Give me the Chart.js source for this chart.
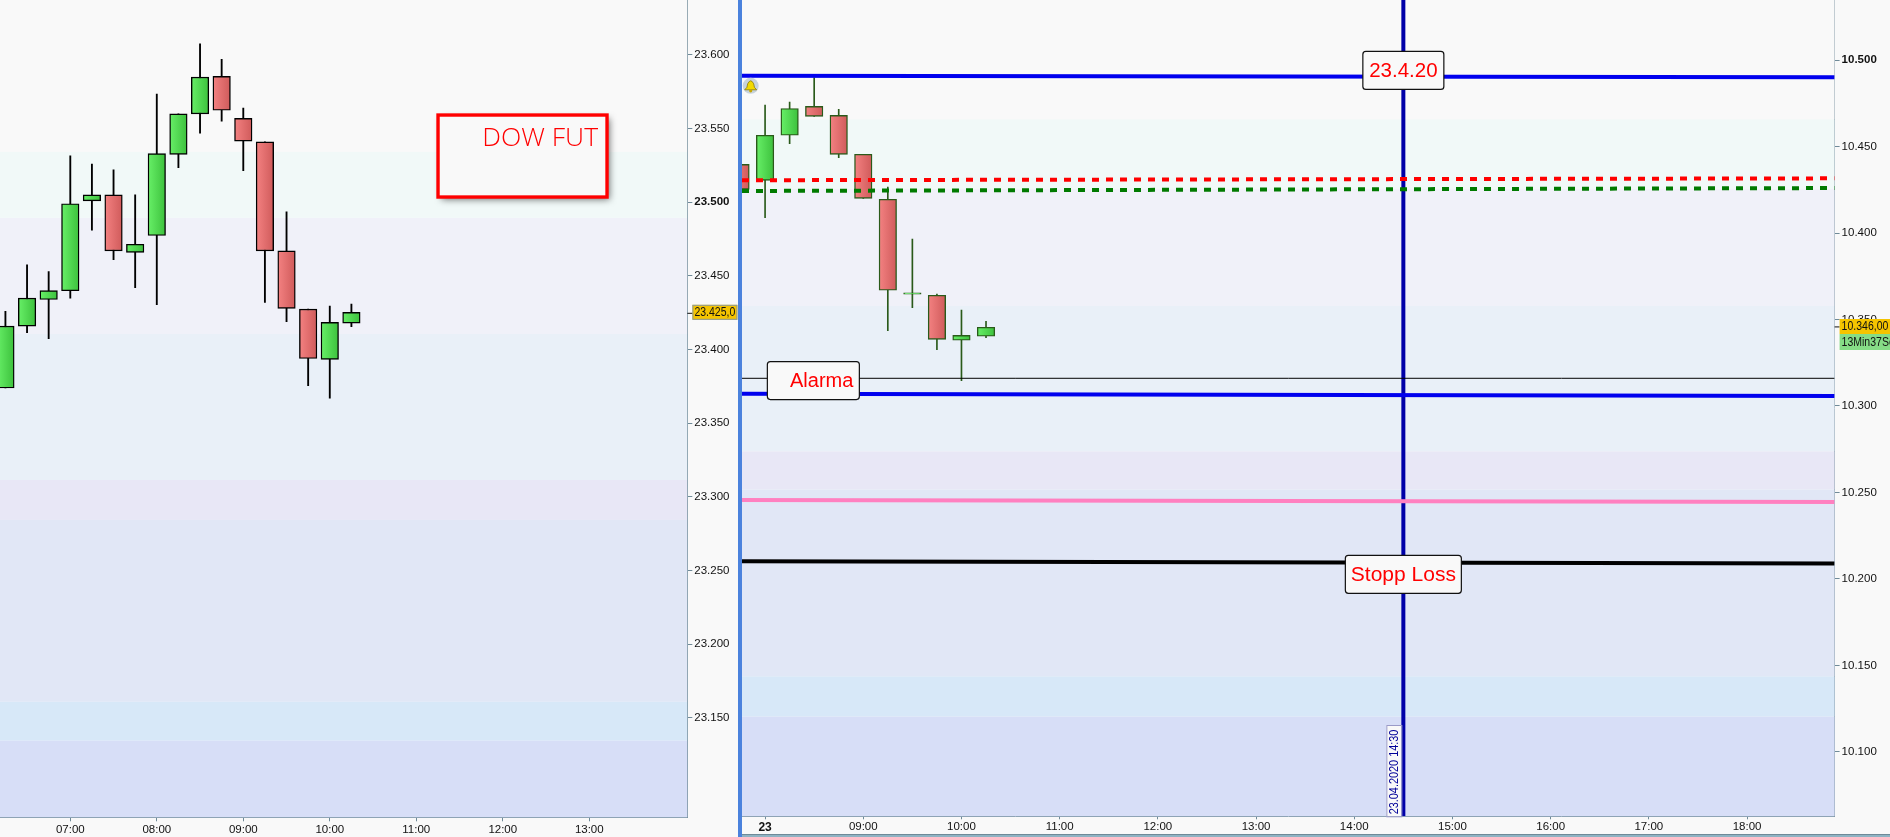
<!DOCTYPE html>
<html><head><meta charset="utf-8">
<script src="https://cdn.jsdelivr.net/npm/chart.js@4"></script>
<style>
html,body{margin:0;padding:0;width:1890px;height:837px;overflow:hidden;background:#f9f9f9}
canvas{position:absolute;top:0;display:block}
#c1{left:0}#c2{left:742px}
#divider{position:absolute;left:738px;top:0;width:4px;height:837px;background:#4b82dd}
#strip{position:absolute;left:742px;top:834px;width:1148px;height:3px;background:#8fb3c3;border-top:1px solid #6f8a98;box-sizing:border-box}
</style></head><body>
<canvas id="c1" width="738" height="837"></canvas>
<div id="divider"></div>
<canvas id="c2" width="1148" height="837"></canvas>
<div id="strip"></div>
<script>
// ---- DOW future panel (minutes after midnight) ----
const dowTimes=[375,390,405,420,435,450,465,480,495,510,525,540,555,570,585,600,615];
const dowOpen =[23374,23416,23434,23440,23501,23505,23466,23477.5,23532.5,23560,23585.5,23557,23541,23467,23427.5,23393.4,23418];
const dowClose=[23416,23435,23440,23499,23505,23467,23471.5,23533,23560,23585,23562.5,23541.5,23467,23428,23394,23418.5,23425.3];
const dowHigh =[23426,23457.5,23453,23531.5,23526,23522,23505,23573.5,23560,23607.5,23597,23564,23541,23493.5,23427.5,23429.6,23431];
const dowLow  =[23374,23411.5,23407.5,23435,23481,23461,23442,23430.5,23523.5,23547,23555,23521.5,23432,23419,23375.6,23367,23415.6];
const dowYTicks=[23150,23200,23250,23300,23350,23400,23450,23500,23550,23600];
const dowXTicks=[420,480,540,600,660,720,780];
const dowBandEdges=[23637.3,23534.2,23489.4,23410.6,23311.5,23284.4,23161,23134.6,23082.6];
const dowLast=23425;

// ---- DAX panel ----
const daxTimes=[465,480,495,510,525,540,555,570,585,600,615];
const daxOpen =[10439.7,10430.4,10456.5,10473.2,10468,10445.5,10419.5,10364.6,10364,10338,10340.3];
const daxClose=[10425.2,10456.5,10472,10467.4,10445.5,10420,10366.9,10365.4,10338.5,10340.8,10345.5];
const daxHigh =[10439.7,10474,10475.7,10489.8,10471.5,10445.5,10426.6,10396.5,10364.7,10355.5,10349];
const daxLow  =[10425.2,10408.9,10451.6,10467.4,10443.5,10420,10343.5,10356.8,10332.6,10314.6,10339.5];
const daxYTicks=[10100,10150,10200,10250,10300,10350,10400,10450,10500];
const daxXTicks=[480,540,600,660,720,780,840,900,960,1020,1080];
const daxBandEdges=[10534.7,10465.7,10425.4,10357.8,10273.7,10251.7,10143.7,10120.4,10062.8];
const daxLast=10346;

// level lines: [value at left edge, value at right edge]
const lineEnds=[465.9,1133.5];
const levelBlueUpper=[10490.9,10490];
const levelRed=[10430.5,10431.6];
const levelGreen=[10424.3,10426];
const levelThin=[10316,10316];
const levelBlueLower=[10307.1,10305.8];
const levelPink=[10245.7,10244.5];
const levelStop=[10210.2,10209];
const markerTime=870;

const bandColors=['#f9f9f9','#f1f9f8','#f0f1f9','#e9f0f8','#e8e7f6','#e1e7f6','#d7e8f8','#d7def7'];
const SANS='"Liberation Sans",Arial,sans-serif';
const AXIS='#6f8a98';

const hm=v=>String(Math.floor(v/60)).padStart(2,'0')+':'+String(v%60).padStart(2,'0');
const thousands=v=>{const s=String(v);return s.slice(0,s.length-3)+'.'+s.slice(-3)};

function candleSets(t,o,c,h,l,edge,wickW){
  const up=i=>c[i]>=o[i];
  const fill=ctx=>{
    const i=ctx.dataIndex;
    if(i===undefined||!ctx.chart.chartArea) return '#55dd55';
    const px=ctx.chart.scales.x.getPixelForValue(t[i]);
    const g=ctx.chart.ctx.createLinearGradient(px-9,0,px+9,0);
    if(up(i)){g.addColorStop(0,'#68f068');g.addColorStop(1,'#3cc03c');}
    else{g.addColorStop(0,'#f48282');g.addColorStop(1,'#cf5a5a');}
    return g;
  };
  return [
    {type:'bar',label:'wick',order:20,data:t.map((x,i)=>({x,y:[l[i],h[i]]})),barThickness:wickW,backgroundColor:edge,borderWidth:0,grouped:false},
    {type:'bar',label:'body',order:19,data:t.map((x,i)=>({x,y:[o[i],c[i]]})),barThickness:17.5,backgroundColor:fill,borderColor:edge,borderWidth:1.4,borderSkipped:false,grouped:false}
  ];
}
const level=(label,vals,color,w,dash,order)=>({type:'line',label,order:order||5,data:lineEnds.map((x,i)=>({x,y:vals[i]})),borderColor:color,borderWidth:w,borderDash:dash||[],pointRadius:0,tension:0,fill:false});

const bands=edges=>({id:'bands',beforeDatasetsDraw(ch){
  const {ctx,chartArea:a,scales:{y}}=ch;
  ctx.save();
  bandColors.forEach((col,i)=>{
    const t=y.getPixelForValue(edges[i]),b=y.getPixelForValue(edges[i+1]);
    ctx.fillStyle=col;ctx.fillRect(a.left,t,a.right-a.left,b-t);
  });
  ctx.restore();
}});

function roundBox(ctx,x,y,w,h,r){ctx.beginPath();ctx.roundRect(x,y,w,h,r);ctx.fillStyle='#f9f9f9';ctx.fill();ctx.lineWidth=1.2;ctx.strokeStyle='#111';ctx.stroke();}

// condensed small label, the screenshot's axis face is narrower than Liberation Sans
function squeezed(ctx,text,x,y,color,sx){
  ctx.save();ctx.translate(x,y);ctx.scale(sx,1);
  ctx.fillStyle=color;ctx.font='12.5px '+SANS;ctx.textAlign='left';ctx.textBaseline='middle';
  ctx.fillText(text,0,0);ctx.restore();
}
function priceTag(ctx,x,y,w,h,fill,text,edge){
  ctx.fillStyle=fill;ctx.fillRect(x,y,w,h);
  if(edge){ctx.strokeStyle=edge;ctx.lineWidth=1;ctx.strokeRect(x+.5,y+.5,w-1,h-1);}
  squeezed(ctx,text,x+2,y+h/2+.5,'#111',.84);
}

const dowOverlay={id:'dowOverlay',afterDraw(ch){
  const {ctx,scales:{x,y},chartArea:a}=ch;
  ctx.save();
  // note box
  const cx=x.getPixelForValue(733.7),cy=y.getPixelForValue(23531.4);
  const bx=cx-84.5,by=cy-41,bw=169,bh=82;
  ctx.save();ctx.shadowColor='rgba(0,0,0,.55)';ctx.shadowBlur=7;ctx.shadowOffsetX=3;ctx.shadowOffsetY=3;
  ctx.fillStyle='#f9f9f9';ctx.fillRect(bx,by,bw,bh);ctx.restore();
  ctx.strokeStyle='#ff0000';ctx.lineWidth=3.4;ctx.strokeRect(bx,by,bw,bh);
  ctx.fillStyle='#ff0000';ctx.font='300 26.5px "Open Sans",sans-serif';ctx.textAlign='right';ctx.textBaseline='middle';
  ctx.fillText('DOW FUT',bx+160,by+23);
  // last price
  const py=y.getPixelForValue(dowLast);
  ctx.strokeStyle='#111';ctx.lineWidth=1;ctx.beginPath();ctx.moveTo(a.right,py+.5);ctx.lineTo(a.right+6,py+.5);ctx.stroke();
  priceTag(ctx,692.4,py-8,45,15,'#f5c400',thousands(dowLast)+',0','#8a9aa0');
  ctx.restore();
}};

const daxOverlay={id:'daxOverlay',afterDraw(ch){
  const {ctx,scales:{x,y},chartArea:a}=ch;
  ctx.save();
  const box=(t,mx,my,w,h,size,align)=>{
    const cx=x.getPixelForValue(mx),cy=y.getPixelForValue(my);
    roundBox(ctx,cx-w/2,cy-h/2,w,h,3);
    ctx.fillStyle='#ff0000';ctx.font=size+'px '+SANS;ctx.textBaseline='middle';
    if(align==='right'){ctx.textAlign='right';ctx.fillText(t,cx+w/2-6,cy+1);}
    else{ctx.textAlign='center';ctx.fillText(t,cx,cy+1);}
  };
  box('23.4.20',markerTime,10494,81,38,20.5);
  box('Stopp Loss',markerTime,10202.7,116,38,21);
  box('Alarma',509.5,10314.7,92,38,20,'right');
  // rotated date flag on the marker
  const vx=x.getPixelForValue(markerTime);
  const l=vx-17,t=725,w=15,b=a.bottom;
  ctx.fillStyle='#f9f9f9';ctx.fillRect(l,t,w,b-t);
  ctx.strokeStyle='#9a9ac8';ctx.lineWidth=1;ctx.strokeRect(l+.5,t+.5,w,b-t);
  ctx.save();ctx.translate(l+8.5,b-2);ctx.rotate(-Math.PI/2);
  squeezed(ctx,'23.04.2020 '+hm(markerTime),0,0,'#000099',.87);ctx.restore();
  // bell
  const bellX=x.getPixelForValue(471.2),bellY=y.getPixelForValue(10485.1);
  ctx.beginPath();ctx.arc(bellX,bellY,8,0,Math.PI*2);ctx.fillStyle='#c7d3dd';ctx.fill();
  ctx.beginPath();ctx.moveTo(bellX-6,bellY+4);ctx.quadraticCurveTo(bellX-3,bellY+2,bellX-3,bellY-2);
  ctx.quadraticCurveTo(bellX,bellY-8,bellX+3,bellY-2);ctx.quadraticCurveTo(bellX+3,bellY+2,bellX+6,bellY+4);ctx.closePath();
  ctx.fillStyle='#f2d900';ctx.fill();ctx.strokeStyle='#8a7a00';ctx.lineWidth=.8;ctx.stroke();
  ctx.beginPath();ctx.arc(bellX,bellY+5,1.6,0,Math.PI*2);ctx.fillStyle='#c8a800';ctx.fill();
  // last price and countdown
  const py=y.getPixelForValue(daxLast);
  ctx.strokeStyle='#111';ctx.lineWidth=1;ctx.beginPath();ctx.moveTo(a.right,py+.5);ctx.lineTo(a.right+5,py+.5);ctx.stroke();
  priceTag(ctx,a.right+5,319,51,15,'#f5c400',thousands(daxLast)+',00');
  priceTag(ctx,a.right+5,334,51,16,'#86dc86','13Min37Sec');
  ctx.restore();
}};

const noPad=s=>{s.paddingTop=0;s.paddingBottom=0;s.paddingLeft=0;s.paddingRight=0;};
function baseOptions(xMin,xMax,yMin,yMax,xTicks,yTicks,axisRight,axisBottom,canvasW,xLabel,boldY,boldX,xTickLen,xPad){
  return {
    responsive:false,animation:false,
    layout:{padding:0,autoPadding:false},
    plugins:{legend:{display:false},tooltip:{enabled:false}},
    scales:{
      x:{type:'linear',offset:false,min:xMin,max:xMax,
        grid:{offset:false,drawOnChartArea:false,color:AXIS,tickLength:xTickLen,tickWidth:1},
        border:{color:AXIS,width:1},
        afterBuildTicks:s=>{s.ticks=xTicks.map(value=>({value}));},
        afterFit:s=>{s.height=837-axisBottom;noPad(s);},
        ticks:{autoSkip:false,maxRotation:0,minRotation:0,padding:xPad,color:'#111',
          callback:xLabel,
          font:c=>c.tick&&c.tick.value===boldX?{family:SANS,size:12,weight:'bold'}:{family:SANS,size:11.5}}},
      y:{type:'linear',position:'right',min:yMin,max:yMax,beginAtZero:false,
        grid:{drawOnChartArea:false,color:AXIS,tickLength:5,tickWidth:1},
        border:{color:AXIS,width:1},
        afterBuildTicks:s=>{s.ticks=yTicks.map(value=>({value}));},
        afterFit:s=>{s.width=canvasW-axisRight;noPad(s);},
        ticks:{autoSkip:false,padding:2,color:'#111',callback:v=>thousands(v),
          font:c=>c.tick&&c.tick.value===boldY?{family:SANS,size:11.5,weight:'bold'}:{family:SANS,size:11.5}}}
    }
  };
}

new Chart(document.getElementById('c1'),{
  type:'bar',
  data:{datasets:candleSets(dowTimes,dowOpen,dowClose,dowHigh,dowLow,'#000000',1.2)},
  options:baseOptions(371.24,848,23082.6,23637.3,dowXTicks,dowYTicks,687.3,817.3,738,v=>hm(v),23500,null,4,2),
  plugins:[bands(dowBandEdges),dowOverlay]
});

new Chart(document.getElementById('c2'),{
  type:'bar',
  data:{datasets:[
    ...candleSets(daxTimes,daxOpen,daxClose,daxHigh,daxLow,'#2a5a1a',1),
    {type:'line',label:'marker',order:8,data:[{x:markerTime,y:10062.8},{x:markerTime,y:10534.7}],borderColor:'#0000a8',borderWidth:4,pointRadius:0},
    level('blue upper',levelBlueUpper,'#0000ee',4),
    level('red',levelRed,'#ff0000',4,[7,7]),
    level('green',levelGreen,'#007a00',4,[7,7]),
    level('thin',levelThin,'#000000',1),
    level('blue lower',levelBlueLower,'#0000ee',4),
    level('pink',levelPink,'#ff80c0',4),
    level('stop',levelStop,'#000000',4)
  ]},
  options:baseOptions(465.9,1133.5,10062.8,10534.7,daxXTicks,daxYTicks,1092.6,816.3,1148,v=>v===480?'23':hm(v),10500,480,3,1),
  plugins:[bands(daxBandEdges),daxOverlay]
});
</script>
</body></html>
